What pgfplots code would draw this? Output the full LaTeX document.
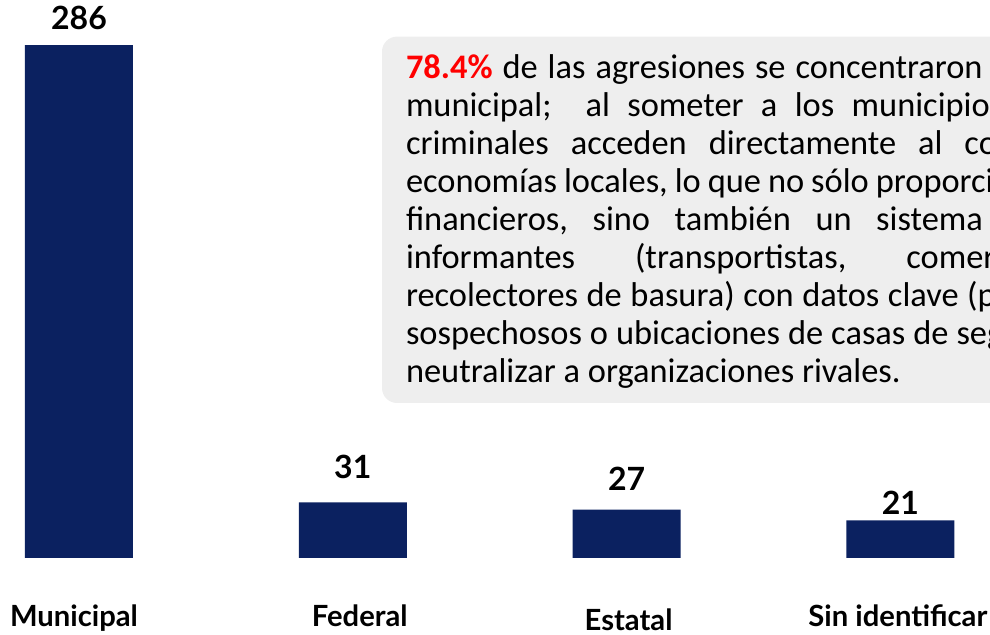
\documentclass[border=0pt]{standalone}
\usepackage{pgfplots}
\pgfplotsset{compat=1.18}
\usepackage{pgfplotstable}
\usepackage{fontspec}
\setmainfont{Carlito}
\newfontfamily\lato{Lato}
\newfontfamily\carlito{Carlito}
\definecolor{navy}{HTML}{0B2160}
\definecolor{boxgray}{HTML}{EEEEEE}
\pgfplotstableread{
x y off
0 286 8
1 31 12
2 27 9.5
3 21 3
}\bars
\newcommand\tl[3]{\node[anchor=base west, inner sep=0pt, font=\carlito\fontsize{17.2}{19}\selectfont] at (202.8pt,#1) {\spaceskip=#2\relax\xspaceskip=#2\relax #3};}
\begin{document}
\begin{tikzpicture}
\path[use as bounding box] (0pt,0pt) rectangle (495pt,317.5pt);
\clip (0pt,0pt) rectangle (495pt,317.5pt);
\begin{axis}[
  at={(0pt,38.5pt)}, anchor=south west,
  scale only axis, width=495pt, height=279pt,
  xmin=-0.2885, xmax=3.3272, ymin=0, ymax=311.1,
  ybar, bar width=54pt,
  axis line style={draw=none}, major tick length=0pt,
  ytick=\empty, xtick={0,1,2,3},
  xticklabels={Municipal\hspace*{5pt},\hspace*{7pt}Federal,\raisebox{-2pt}{\hspace*{2pt}Estatal},Sin identificar\hspace*{2.5pt}},
  xticklabel style={anchor=base, yshift=-34.5pt, font=\lato\bfseries\fontsize{14.6}{17}\selectfont},
  clip=false,
  point meta=explicit symbolic,
  nodes near coords=\pgfplotspointmeta,
  visualization depends on={\thisrow{off} \as \myoff},
  nodes near coords style={anchor=base, yshift=\myoff pt, font=\lato\bfseries\fontsize{16}{18}\selectfont, text=black},
]
\addplot[draw=none, fill=navy] table[x=x, y=y, meta=y] {\bars};
\end{axis}
\fill[boxgray, rounded corners=7.5pt] (191pt,116pt) rectangle (560pt,299.2pt);
\tl{278.4pt}{5pt}{{\bfseries\color{red}78.4\%} de las agresiones se concentraron en el}
\tl{259.35pt}{8.7pt}{municipal;\hspace{17pt}al someter a los municipios, los}
\tl{240.3pt}{11pt}{criminales acceden directamente al control de}
\tl{221.25pt}{3.5pt}{economías locales, lo que no sólo proporciona recursos}
\tl{202.2pt}{12.3pt}{financieros, sino también un sistema de}
\tl{183.15pt}{30pt}{informantes (transportistas, comerciantes,}
\tl{164.1pt}{4.3pt}{recolectores de basura) con datos clave (por ejemplo,}
\tl{145.05pt}{4pt}{sospechosos o ubicaciones de casas de seguridad}
\tl{126pt}{3.9pt}{neutralizar a organizaciones rivales.}
\end{tikzpicture}
\end{document}
